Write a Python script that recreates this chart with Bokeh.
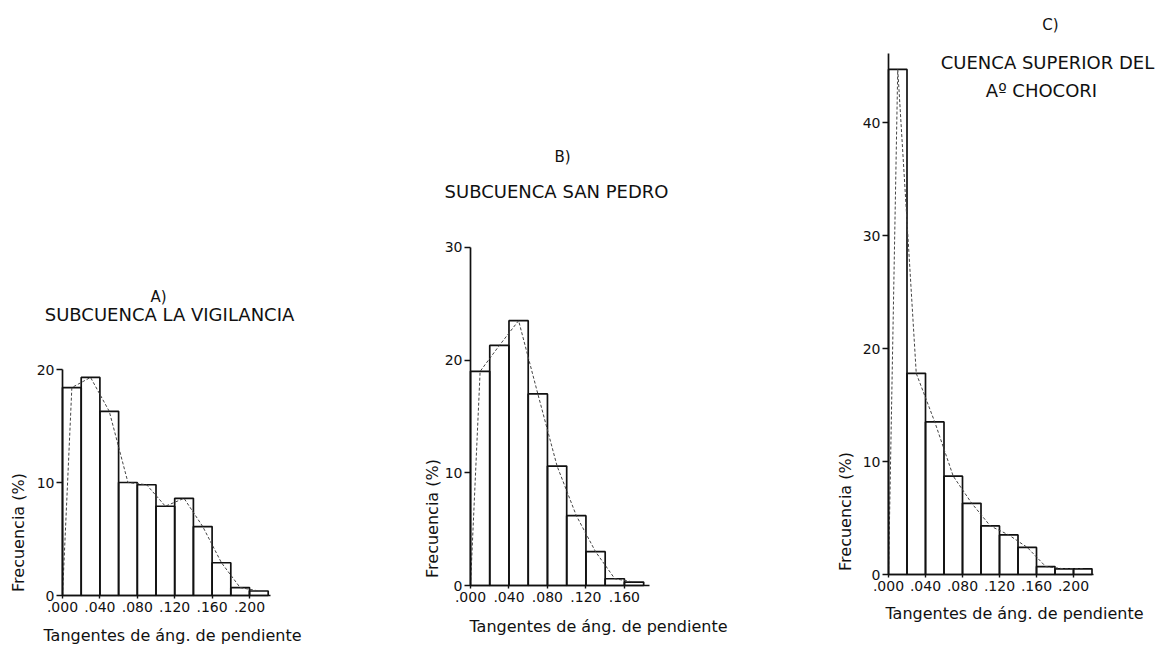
import math
from bokeh.plotting import figure
from bokeh.layouts import row
from bokeh.models import Range1d, Label, FixedTicker
from bokeh.embed import file_html
from bokeh.resources import INLINE

# ---------------- data ----------------
bin_width = 0.02
freq_a = [18.4, 19.3, 16.3, 10.0, 9.8, 7.9, 8.6, 6.1, 2.9, 0.7, 0.4]
freq_b = [19.0, 21.3, 23.5, 17.0, 10.6, 6.2, 3.0, 0.6, 0.3]
freq_c = [44.7, 17.8, 13.5, 8.7, 6.3, 4.3, 3.5, 2.4, 0.7, 0.5, 0.5]

y_ticks_a = [0, 10, 20]
y_ticks_b = [0, 10, 20, 30]
y_ticks_c = [0, 10, 20, 30, 40]

x_ticks_ac = [0.0, 0.04, 0.08, 0.12, 0.16, 0.20]
x_labels_ac = [".000", ".040", ".080", ".120", ".160", ".200"]
x_ticks_b = [0.0, 0.04, 0.08, 0.12, 0.16]
x_labels_b = [".000", ".040", ".080", ".120", ".160"]

tag_a, title_a = "A)", ["SUBCUENCA LA VIGILANCIA"]
tag_b, title_b = "B)", ["SUBCUENCA SAN PEDRO"]
tag_c, title_c = "C)", ["CUENCA SUPERIOR DEL", "A\u00ba CHOCORI"]

y_label = "Frecuencia (%)"
x_label = "Tangentes de \u00e1ng. de pendiente"

FONT = "DejaVu Sans"
INK = "#111111"
H = 646


def make_panel(freq, y_ticks, y_top, x_ticks, x_labels, x_end, tag, titles,
               fig_left, fig_width, axis_x, zero_y, px_x, px_y,
               tag_pos, title_pos, ylab_pos, xlab_pos):
    off_x = axis_x - fig_left          # pixels from figure's left edge to x = 0
    p = figure(width=fig_width, height=H, output_backend="svg",
               toolbar_location=None, title=None,
               x_range=Range1d(-off_x / px_x, (fig_width - off_x) / px_x),
               y_range=Range1d(-(H - zero_y) / px_y, zero_y / px_y),
               min_border=0, min_border_left=0, min_border_right=0,
               min_border_top=0, min_border_bottom=0)
    p.outline_line_color = None
    p.grid.visible = False
    p.background_fill_color = "white"
    p.border_fill_color = "white"

    left = [i * bin_width for i in range(len(freq))]
    right = [(i + 1) * bin_width for i in range(len(freq))]
    p.quad(left=left, right=right, bottom=0, top=freq,
           fill_color=None, line_color=INK, line_width=1.7)

    mids = [(l + r) / 2 for l, r in zip(left, right)]
    p.line([left[0]] + mids, [0] + freq, line_color="#444444",
           line_width=1.0, line_dash="3 2")

    # axes, drawn at x = 0 and y = 0 inside the frame
    ya = p.yaxis[0]
    ya.fixed_location = 0
    ya.ticker = FixedTicker(ticks=y_ticks)
    ya.bounds = (0, y_top)
    xa = p.xaxis[0]
    xa.fixed_location = 0
    xa.ticker = FixedTicker(ticks=x_ticks)
    xa.major_label_overrides = {t: s for t, s in zip(x_ticks, x_labels)}
    xa.bounds = (0, x_end)
    for ax in (xa, ya):
        ax.axis_line_color = INK
        ax.axis_line_width = 1.7
        ax.major_tick_line_color = INK
        ax.major_tick_line_width = 1.4
        ax.major_tick_in = 0
        ax.minor_tick_line_color = None
        ax.major_label_text_font = FONT
        ax.major_label_text_color = INK
    ya.major_tick_out = 6
    ya.major_label_standoff = 2
    ya.major_label_text_font_size = "14px"
    xa.major_tick_out = 3
    xa.major_label_standoff = 3
    xa.major_label_text_font_size = "14px"

    def dx(px):
        return (px - axis_x) / px_x

    def dy(py):
        return (zero_y - py) / px_y

    p.add_layout(Label(x=dx(tag_pos[0]), y=dy(tag_pos[1]), text=tag,
                       text_align="center", text_baseline="middle",
                       text_font=FONT, text_font_size="15px", text_color=INK))
    for i, t in enumerate(titles):
        p.add_layout(Label(x=dx(title_pos[i][0]), y=dy(title_pos[i][1]), text=t,
                           text_align="center", text_baseline="middle",
                           text_font=FONT, text_font_size="18px", text_color=INK))
    p.add_layout(Label(x=dx(ylab_pos[0]), y=dy(ylab_pos[1]), text=y_label,
                       angle=math.pi / 2, text_align="center", text_baseline="middle",
                       text_font=FONT, text_font_size="16px", text_color=INK))
    p.add_layout(Label(x=dx(xlab_pos[0]), y=dy(xlab_pos[1]), text=x_label,
                       text_align="center", text_baseline="middle",
                       text_font=FONT, text_font_size="16px", text_color=INK))
    return p


pa = make_panel(freq_a, y_ticks_a, 20, x_ticks_ac, x_labels_ac, 0.222, tag_a, title_a,
                fig_left=0, fig_width=390, axis_x=62, zero_y=595, px_x=935, px_y=11.3,
                tag_pos=(158, 296), title_pos=[(169, 314)],
                ylab_pos=(18, 532), xlab_pos=(172, 635))
pb = make_panel(freq_b, y_ticks_b, 30, x_ticks_b, x_labels_b, 0.186, tag_b, title_b,
                fig_left=390, fig_width=415, axis_x=470, zero_y=585, px_x=962, px_y=11.27,
                tag_pos=(562, 156), title_pos=[(556, 191)],
                ylab_pos=(432, 518), xlab_pos=(598, 626))
pc = make_panel(freq_c, y_ticks_c, 46.1, x_ticks_ac, x_labels_ac, 0.222, tag_c, title_c,
                fig_left=805, fig_width=368, axis_x=888, zero_y=574, px_x=925, px_y=11.3,
                tag_pos=(1050, 24), title_pos=[(1047, 62), (1041, 90)],
                ylab_pos=(845, 511), xlab_pos=(1014, 613))

layout = row(pa, pb, pc, spacing=0)
open("out.html", "w").write(file_html(layout, INLINE))
